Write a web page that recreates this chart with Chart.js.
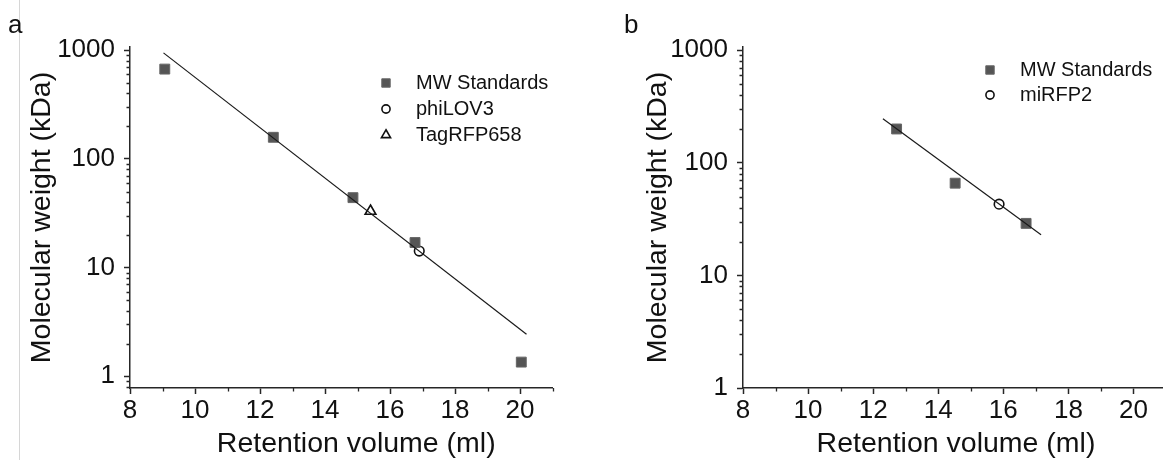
<!DOCTYPE html>
<html>
<head>
<meta charset="utf-8">
<title>Retention volume calibration</title>
<script src="https://cdn.jsdelivr.net/npm/chart.js@4.4.0/dist/chart.umd.min.js"></script>
<style>
    html, body { margin: 0; padding: 0; background: #fff; overflow: hidden; }
    body { width: 1163px; height: 460px; position: relative; font-family: "Liberation Sans", Arial, sans-serif; }
    #edge { position: absolute; left: 19px; top: 0; width: 1px; height: 460px; background: #d6d6d6; }
    .panel_letter { position: absolute; font-size: 26px; line-height: 26px; color: #111; }
    #wrap_a { position: absolute; left: 0; top: 0; width: 580px; height: 460px; }
    #wrap_b { position: absolute; left: 580px; top: 0; width: 600px; height: 460px; }
</style>
</head>
<body>
<div id="edge"></div>
<div id="wrap_a"><canvas id="calibration_a_canvas" width="580" height="460"></canvas></div>
<div id="wrap_b"><canvas id="calibration_b_canvas" width="600" height="460"></canvas></div>
<div class="panel_letter" style="left:8px; top:11px;">a</div>
<div class="panel_letter" style="left:624px; top:11px;">b</div>
<script>
// panel a
const standards_a_volume = [9.07, 12.41, 14.86, 16.77, 20.04];
const standards_a_mw = [670, 158, 44, 17, 1.35];
const philov3_volume = [16.90];
const philov3_mw = [14.2];
const tagrfp658_volume = [15.40];
const tagrfp658_mw = [33];
const fit_a_volume = [9.03, 20.2];
const fit_a_mw = [945, 2.44];

// panel b
const standards_b_volume = [12.72, 14.52, 16.70];
const standards_b_mw = [200, 66, 29];
const mirfp2_volume = [15.87];
const mirfp2_mw = [43];
const fit_b_volume = [12.30, 17.16];
const fit_b_mw = [247, 23.0];

// axes
const x_major_ticks = [8, 10, 12, 14, 16, 18, 20];
const x_minor_ticks = [9, 11, 13, 15, 17, 19, 21];
const y_major_ticks = [1, 10, 100, 1000];
const y_minor_ticks = [0.8, 0.9, 2, 3, 4, 5, 6, 7, 8, 9, 20, 30, 40, 50, 60, 70, 80, 90,
    200, 300, 400, 500, 600, 700, 800, 900];

const font_family = '"Liberation Sans", Arial, sans-serif';
const axis_color = '#262626';
const text_color = '#111111';

function to_points(xs, ys) {
    return xs.map((x, i) => ({x: x, y: ys[i]}));
}

const minor_ticks_plugin = {
    id: 'minor_ticks',
    afterDraw(chart) {
        const ctx = chart.ctx;
        const x_scale = chart.scales.x;
        const y_scale = chart.scales.y;
        ctx.save();
        ctx.strokeStyle = axis_color;
        ctx.lineWidth = 1.3;
        ctx.beginPath();
        for (const v of x_minor_ticks) {
            if (v < x_scale.min || v > x_scale.max) {continue;}
            const px = Math.round(x_scale.getPixelForValue(v)) + 0.5;
            ctx.moveTo(px, x_scale.top);
            ctx.lineTo(px, x_scale.top + 3.5);
        }
        for (const v of y_minor_ticks) {
            if (v < y_scale.min || v > y_scale.max) {continue;}
            const py = Math.round(y_scale.getPixelForValue(v)) + 0.5;
            ctx.moveTo(y_scale.right, py);
            ctx.lineTo(y_scale.right - 3.5, py);
        }
        ctx.stroke();
        ctx.restore();
    }
};

const inset_legend_plugin = {
    id: 'inset_legend',
    afterDraw(chart, args, opts) {
        const ctx = chart.ctx;
        let y = opts.y;
        for (const ds of chart.data.datasets) {
            if (!ds.in_legend) {continue;}
            ctx.save();
            ctx.fillStyle = ds.backgroundColor;
            ctx.strokeStyle = ds.borderColor;
            ctx.lineWidth = ds.borderWidth;
            Chart.helpers.drawPoint(ctx, {
                pointStyle: ds.pointStyle,
                radius: ds.pointRadius * 0.85,
                borderWidth: ds.borderWidth,
                rotation: 0
            }, opts.x, y);
            ctx.fillStyle = text_color;
            ctx.font = '20px ' + font_family;
            ctx.textBaseline = 'middle';
            ctx.textAlign = 'left';
            ctx.fillText(ds.label, opts.x + opts.gap, y);
            ctx.restore();
            y += opts.row;
        }
    }
};

const x_title_plugin = {
    id: 'x_title',
    afterDraw(chart, args, opts) {
        const ctx = chart.ctx;
        const area = chart.chartArea;
        ctx.save();
        ctx.fillStyle = text_color;
        ctx.font = '28.5px ' + font_family;
        ctx.textAlign = 'center';
        ctx.textBaseline = 'alphabetic';
        ctx.fillText(opts.text, (area.left + area.right) / 2 + opts.dx, opts.baseline);
        ctx.restore();
    }
};

function make_config(datasets, y_min, y_width, y_title_pad, right_pad, legend, x_title_dx) {
    return {
        type: 'scatter',
        data: {datasets: datasets},
        options: {
            responsive: false,
            animation: false,
            events: [],
            layout: {padding: {left: 0, right: right_pad, top: 47, bottom: 0}},
            plugins: {
                legend: {display: false},
                tooltip: {enabled: false},
                inset_legend: legend,
                x_title: {text: 'Retention volume (ml)', dx: x_title_dx, baseline: 452}
            },
            scales: {
                x: {
                    type: 'linear',
                    min: 8,
                    max: 21,
                    afterBuildTicks: (scale) => { scale.ticks = x_major_ticks.map(v => ({value: v})); },
                    afterFit: (scale) => { scale.height = 72; },
                    ticks: {
                        font: {family: font_family, size: 26},
                        color: text_color,
                        padding: 1,
                        maxRotation: 0,
                        autoSkip: false
                    },
                    grid: {drawOnChartArea: false, tickLength: 6, tickWidth: 1.5, tickColor: axis_color},
                    border: {color: axis_color, width: 1.5}
                },
                y: {
                    type: 'logarithmic',
                    min: y_min,
                    max: 1070,
                    afterBuildTicks: (scale) => { scale.ticks = y_major_ticks.map(v => ({value: v})); },
                    afterFit: (scale) => { scale.width = y_width; },
                    ticks: {
                        font: {family: font_family, size: 26},
                        color: text_color,
                        padding: 9,
                        autoSkip: false,
                        callback: (value) => String(value)
                    },
                    grid: {drawOnChartArea: false, tickLength: 6, tickWidth: 1.5, tickColor: axis_color},
                    border: {color: axis_color, width: 1.5},
                    title: {
                        display: true,
                        text: 'Molecular weight (kDa)',
                        color: text_color,
                        font: {family: font_family, size: 28.5},
                        padding: {top: y_title_pad, bottom: 0}
                    }
                }
            }
        },
        plugins: [minor_ticks_plugin, inset_legend_plugin, x_title_plugin]
    };
}

function fit_dataset(xs, ys) {
    return {
        type: 'line',
        label: 'fit',
        data: to_points(xs, ys),
        borderColor: '#1a1a1a',
        borderWidth: 1.2,
        pointRadius: 0,
        showLine: true,
        in_legend: false
    };
}

function standards_dataset(xs, ys) {
    return {
        label: 'MW Standards',
        data: to_points(xs, ys),
        pointStyle: 'rect',
        pointRadius: 7,
        backgroundColor: '#555555',
        borderColor: '#666666',
        borderWidth: 1,
        in_legend: true
    };
}

function hollow_dataset(label, style, radius, xs, ys) {
    return {
        label: label,
        data: to_points(xs, ys),
        pointStyle: style,
        pointRadius: radius,
        backgroundColor: 'rgba(255,255,255,0)',
        borderColor: '#111111',
        borderWidth: 1.6,
        in_legend: true
    };
}

const datasets_a = [
    fit_dataset(fit_a_volume, fit_a_mw),
    standards_dataset(standards_a_volume, standards_a_mw),
    hollow_dataset('phiLOV3', 'circle', 4.8, philov3_volume, philov3_mw),
    hollow_dataset('TagRFP658', 'triangle', 6.2, tagrfp658_volume, tagrfp658_mw)
];

const datasets_b = [
    fit_dataset(fit_b_volume, fit_b_mw),
    standards_dataset(standards_b_volume, standards_b_mw),
    hollow_dataset('miRFP2', 'circle', 4.8, mirfp2_volume, mirfp2_mw)
];

new Chart(
    document.getElementById('calibration_a_canvas'),
    make_config(datasets_a, 0.78, 130, 25, 27.5, {x: 386, y: 83, row: 26, gap: 30}, 15)
);

new Chart(
    document.getElementById('calibration_b_canvas'),
    make_config(datasets_b, 1, 163, 61, 14, {x: 410, y: 70, row: 25, gap: 30}, 1.5)
);
</script>
</body>
</html>
